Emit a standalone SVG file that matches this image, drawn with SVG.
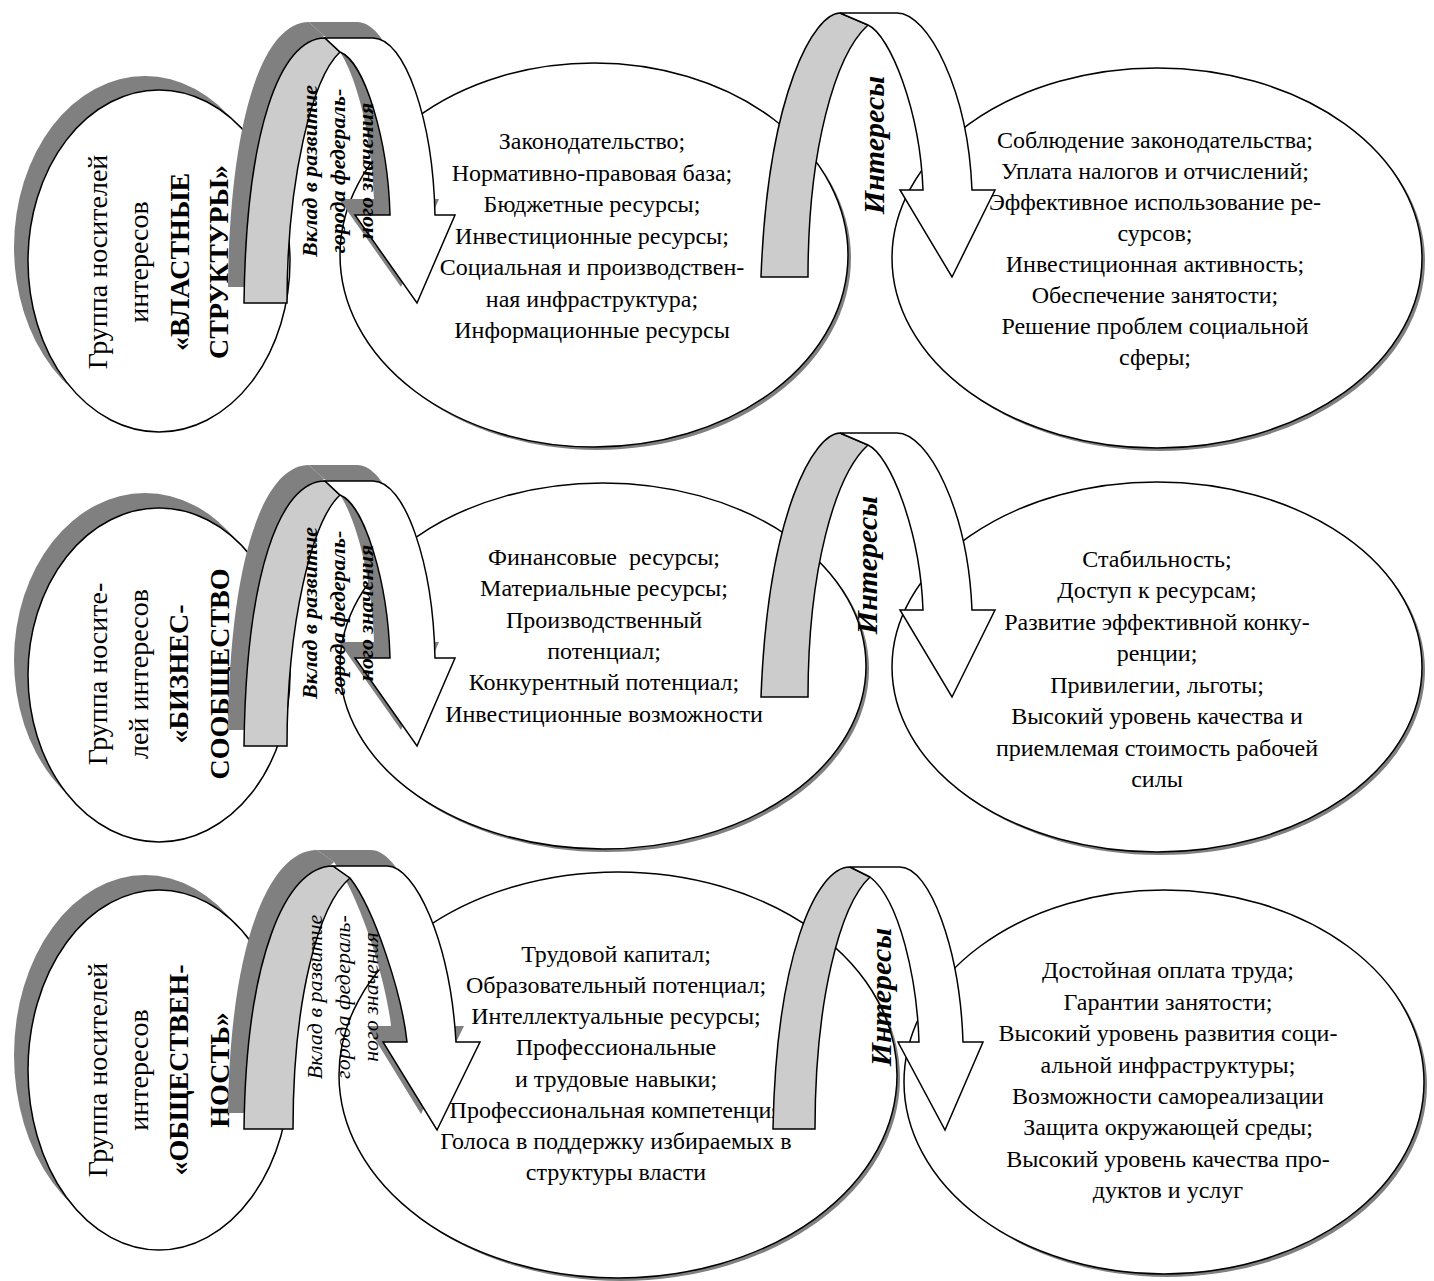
<svg xmlns="http://www.w3.org/2000/svg" xmlns:xlink="http://www.w3.org/1999/xlink" width="1434" height="1281" viewBox="0 0 1434 1281" font-family="Liberation Serif, serif">
<style>
.sh{fill:#808080;stroke:none}
.el{fill:#fff;stroke:#000;stroke-width:1.5}
.gb{fill:#cccccc;stroke:#000;stroke-width:1.5;stroke-linejoin:miter}
.wb{fill:#fff;stroke:#000;stroke-width:1.5;stroke-linejoin:miter}
text{font-size:24px;text-anchor:middle;fill:#000;white-space:pre}
.lt{font-size:28px}
.b{font-weight:bold}
.ar{font-size:22px;font-style:italic}
.in{font-size:30px;font-style:italic;font-weight:bold}
</style>
<defs>
<path id="a1g" d="M244,303 C246,130 280,38 325,38 L340,52 C312,78 287,180 287,303 Z"/>
<path id="a1w" d="M325,38 L373,38 C405,38 433,120 435,215 L455,215 L417,303 L355,215 L390,215 C388,140 365,62 340,52 Z"/>
<path id="a2g" d="M761,277 C768,90 815,13 840,13 L868,25 C835,55 808,150 808,277 Z"/>
<path id="a2w" d="M840,13 L897,13 C928,13 968,90 972,190 L995,190 L952,277 L900,190 L923,190 C920,110 890,35 868,25 Z"/>
<path id="a3g" d="M244,1129 C246,960 285,866 333,866 L350,878 C318,905 293,1000 293,1129 Z"/>
<path id="a3w" d="M333,866 L387,866 C415,866 450,940 456,1042 L480,1042 L437,1130 L383,1042 L407,1042 C402,995 375,910 350,878 Z"/>
<path id="a4g" d="M773,1129 C776,960 815,867 850,867 L870,877 C840,905 815,1000 815,1129 Z"/>
<path id="a4w" d="M850,867 L900,867 C930,867 960,950 963,1042 L983,1042 L945,1130 L898,1042 L919,1042 C917,980 900,900 870,877 Z"/>
</defs>
<rect width="1434" height="1281" fill="#fff"/>

<!-- Row 1 -->
<g id="node-vlast">
<ellipse class="sh" cx="145" cy="247" rx="131" ry="171"/>
<ellipse class="el" cx="159" cy="261" rx="131" ry="171"/>
<text class="lt" transform="translate(159,262) rotate(-90)"><tspan x="0" y="-52">Группа носителей</tspan><tspan x="0" y="-11">интересов</tspan><tspan class="b" x="0" y="30">«ВЛАСТНЫЕ</tspan><tspan class="b" x="0" y="69">СТРУКТУРЫ»</tspan></text>
</g>
<g id="node-vlast-resources">
<ellipse class="sh" cx="597" cy="258" rx="254" ry="192"/>
<ellipse class="el" cx="594" cy="255" rx="254" ry="192"/>
<text><tspan x="592" y="149">Законодательство;</tspan><tspan x="592" y="181">Нормативно-правовая база;</tspan><tspan x="592" y="212">Бюджетные ресурсы;</tspan><tspan x="592" y="244">Инвестиционные ресурсы;</tspan><tspan x="592" y="275">Социальная и производствен-</tspan><tspan x="592" y="307">ная инфраструктура;</tspan><tspan x="592" y="338">Информационные ресурсы</tspan></text>
</g>
<g id="node-vlast-interests">
<ellipse class="sh" cx="1160" cy="261" rx="265" ry="190"/>
<ellipse class="el" cx="1157" cy="258" rx="265" ry="190"/>
<text><tspan x="1155" y="148">Соблюдение законодательства;</tspan><tspan x="1155" y="179">Уплата налогов и отчислений;</tspan><tspan x="1155" y="210">Эффективное использование ре-</tspan><tspan x="1155" y="241">сурсов;</tspan><tspan x="1155" y="272">Инвестиционная активность;</tspan><tspan x="1155" y="303">Обеспечение занятости;</tspan><tspan x="1155" y="334">Решение проблем социальной</tspan><tspan x="1155" y="365">сферы;</tspan></text>
</g>

<!-- Row 2 -->
<g id="node-biznes">
<ellipse class="sh" cx="145" cy="660" rx="131" ry="167"/>
<ellipse class="el" cx="159" cy="675" rx="131" ry="167"/>
<text class="lt" transform="translate(159,674) rotate(-90)"><tspan x="0" y="-52">Группа носите-</tspan><tspan x="0" y="-11">лей интересов</tspan><tspan class="b" x="0" y="29">«БИЗНЕС-</tspan><tspan class="b" x="0" y="70">СООБЩЕСТВО</tspan></text>
</g>
<g id="node-biznes-resources">
<ellipse class="sh" cx="606" cy="669" rx="263" ry="183"/>
<ellipse class="el" cx="603" cy="666" rx="263" ry="183"/>
<text><tspan x="604" y="565">Финансовые  ресурсы;</tspan><tspan x="604" y="596">Материальные ресурсы;</tspan><tspan x="604" y="628">Производственный</tspan><tspan x="604" y="659">потенциал;</tspan><tspan x="604" y="690">Конкурентный потенциал;</tspan><tspan x="604" y="722">Инвестиционные возможности</tspan></text>
</g>
<g id="node-biznes-interests">
<ellipse class="sh" cx="1160" cy="670" rx="265" ry="185"/>
<ellipse class="el" cx="1157" cy="667" rx="265" ry="185"/>
<text><tspan x="1157" y="567">Стабильность;</tspan><tspan x="1157" y="598">Доступ к ресурсам;</tspan><tspan x="1157" y="630">Развитие эффективной конку-</tspan><tspan x="1157" y="661">ренции;</tspan><tspan x="1157" y="693">Привилегии, льготы;</tspan><tspan x="1157" y="724">Высокий уровень качества и</tspan><tspan x="1157" y="756">приемлемая стоимость рабочей</tspan><tspan x="1157" y="787">силы</tspan></text>
</g>

<!-- Row 3 -->
<g id="node-obsh">
<ellipse class="sh" cx="145" cy="1055" rx="131" ry="180"/>
<ellipse class="el" cx="159" cy="1070" rx="131" ry="180"/>
<text class="lt" transform="translate(159,1070) rotate(-90)"><tspan x="0" y="-52">Группа носителей</tspan><tspan x="0" y="-11">интересов</tspan><tspan class="b" x="0" y="29">«ОБЩЕСТВЕН-</tspan><tspan class="b" x="0" y="70">НОСТЬ»</tspan></text>
</g>
<g id="node-obsh-resources">
<ellipse class="sh" cx="621" cy="1078" rx="279" ry="203"/>
<ellipse class="el" cx="618" cy="1075" rx="279" ry="203"/>
<text><tspan x="616" y="962">Трудовой капитал;</tspan><tspan x="616" y="993">Образовательный потенциал;</tspan><tspan x="616" y="1024">Интеллектуальные ресурсы;</tspan><tspan x="616" y="1055">Профессиональные</tspan><tspan x="616" y="1087">и трудовые навыки;</tspan><tspan x="616" y="1118">Профессиональная компетенция</tspan><tspan x="616" y="1149">Голоса в поддержку избираемых в</tspan><tspan x="616" y="1180">структуры власти</tspan></text>
</g>
<g id="node-obsh-interests">
<ellipse class="sh" cx="1167" cy="1085" rx="260" ry="192"/>
<ellipse class="el" cx="1164" cy="1082" rx="260" ry="192"/>
<text><tspan x="1168" y="978">Достойная оплата труда;</tspan><tspan x="1168" y="1010">Гарантии занятости;</tspan><tspan x="1168" y="1041">Высокий уровень развития соци-</tspan><tspan x="1168" y="1073">альной инфраструктуры;</tspan><tspan x="1168" y="1104">Возможности самореализации</tspan><tspan x="1168" y="1135">Защита окружающей среды;</tspan><tspan x="1168" y="1167">Высокий уровень качества про-</tspan><tspan x="1168" y="1198">дуктов и услуг</tspan></text>
</g>

<g id="connectors">
<g transform="translate(-16,-16)" class="sh"><use xlink:href="#a1g"/><use xlink:href="#a1w"/></g>
<use class="gb" xlink:href="#a1g"/><use class="wb" xlink:href="#a1w"/>
<use class="gb" xlink:href="#a2g"/><use class="wb" xlink:href="#a2w"/>
<g transform="translate(0,443)">
<g transform="translate(-16,-16)" class="sh"><use xlink:href="#a1g"/><use xlink:href="#a1w"/></g>
<use class="gb" xlink:href="#a1g"/><use class="wb" xlink:href="#a1w"/>
</g>
<g transform="translate(0,420)"><use class="gb" xlink:href="#a2g"/><use class="wb" xlink:href="#a2w"/></g>
<g transform="translate(-16,-16)" class="sh"><use xlink:href="#a3g"/><use xlink:href="#a3w"/></g>
<use class="gb" xlink:href="#a3g"/><use class="wb" xlink:href="#a3w"/>
<use class="gb" xlink:href="#a4g"/><use class="wb" xlink:href="#a4w"/>

<text class="ar b" transform="translate(317,171) rotate(-90)"><tspan x="0" y="0">Вклад в развитие</tspan><tspan x="0" y="28">города федераль-</tspan><tspan x="0" y="56">ного значения</tspan></text>
<text class="ar b" transform="translate(317,613) rotate(-90)"><tspan x="0" y="0">Вклад в развитие</tspan><tspan x="0" y="28">города федераль-</tspan><tspan x="0" y="56">ного значения</tspan></text>
<text class="ar" transform="translate(322,997) rotate(-90)"><tspan x="0" y="0">Вклад в развитие</tspan><tspan x="0" y="28">города федераль-</tspan><tspan x="0" y="56">ного значения</tspan></text>
<text class="in" transform="translate(884,145) rotate(-90)">Интересы</text>
<text class="in" transform="translate(877,565) rotate(-90)">Интересы</text>
<text class="in" transform="translate(891,997) rotate(-90)">Интересы</text>
</g>
</svg>
